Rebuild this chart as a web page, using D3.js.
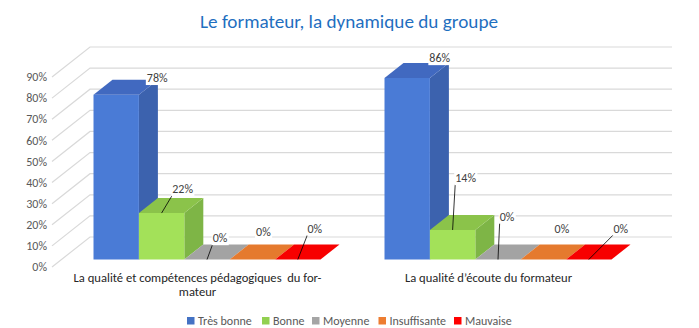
<!DOCTYPE html>
<html>
<head>
<meta charset="utf-8">
<script src="https://cdn.jsdelivr.net/npm/d3@7"></script>
<style>
  html, body { margin: 0; padding: 0; background: #fff; }
  svg { display: block; font-family: Calibri, Carlito, Lato, sans-serif; }
</style>
</head>
<body>
<svg id="chart" width="699" height="328"></svg>
<script>
// ---- data ----
const title = "Le formateur, la dynamique du groupe";
const categories = ["La qualité et compétences pédagogiques  du formateur", "La qualité d’écoute du formateur"];
const categoryLines = [["La qualité et compétences pédagogiques  du for-", "mateur"], ["La qualité d’écoute du formateur"]];
const series = ["Très bonne", "Bonne", "Moyenne", "Insuffisante", "Mauvaise"];
const tresBonne = [0.78, 0.86];
const bonne = [0.22, 0.14];
const moyenne = [0, 0];
const insuffisante = [0, 0];
const mauvaise = [0, 0];
const yTicks = [0, 0.1, 0.2, 0.3, 0.4, 0.5, 0.6, 0.7, 0.8, 0.9];
const yTickLabels = ["0%", "10%", "20%", "30%", "40%", "50%", "60%", "70%", "80%", "90%"];

// ---- layout / styles ----
const seriesValues = [tresBonne, bonne, moyenne, insuffisante, mauvaise];
const faceColors = [
  {front: "#4a7bd6", top: "#4169c0", side: "#3c62ae"},
  {front: "#a3e159", top: "#8bc34a", side: "#7eb546"},
  {front: "#a5a5a5", top: "#a3a3a3", side: "#8c8c8c"},
  {front: "#ed7d31", top: "#e57a2e", side: "#c96a28"},
  {front: "#ff0000", top: "#f70000", side: "#d90000"}
];
const legendColors = ["#4472c4", "#92d050", "#a5a5a5", "#ed7d31", "#ff0000"];
// label offsets from bar front-top-centre [series][category] and leader flags
const labelOffsets = [
  [[41, -17], [32.5, -20]],
  [[21, -24], [13, -52]],
  [[13, -21.5], [9, -43]],
  [[11, -28], [18.5, -31]],
  [[17, -31], [32, -31]]
];
const leaders = [[false, false], [true, true], [true, true], [false, false], [true, true]];

const DX = 38, DY = 30;           // full depth offset
const Z0 = 0.25, Z1 = 0.75;       // bar depth range

const svg = d3.select("#chart");

const x0 = d3.scaleBand().domain(categories).range([52, 634]).padding(0);
const x1 = d3.scaleBand().domain(series).range([0, x0.bandwidth()]).paddingInner(0).paddingOuter(0.705);
const y = d3.scaleLinear().domain([0, 0.9]).range([267, 77]);

const P = (x, v, z) => [x + DX * z, y(v) - DY * z];

// title
svg.append("text")
  .attr("x", 349).attr("y", 28)
  .attr("text-anchor", "middle")
  .attr("font-size", 19.2)
  .attr("fill", "#1f6fbf")
  .text(title);

// gridlines: side wall diagonals + back wall horizontals
const grid = svg.append("g").attr("stroke", "#d9d9d9").attr("stroke-width", 1.2).attr("fill", "none");
yTicks.forEach(t => {
  const a = P(52, t, 0), b = P(52, t, 1), c = P(634, t, 1);
  grid.append("path").attr("d", `M${a[0]},${a[1]}L${b[0]},${b[1]}L${c[0]},${c[1]}`);
});

// y tick labels
svg.append("g").selectAll("text").data(yTicks).join("text")
  .attr("x", 47).attr("y", d => y(d))
  .attr("dy", "0.35em")
  .attr("text-anchor", "end")
  .attr("font-size", 12)
  .attr("fill", "#595959")
  .text((d, i) => yTickLabels[i]);

// bars
const barsG = svg.append("g");
const poly = pts => "M" + pts.map(p => p.join(",")).join("L") + "Z";
categories.forEach((cat, ci) => {
  series.forEach((s, si) => {
    const v = seriesValues[si][ci];
    const xl = x0(cat) + x1(s);
    const xr = xl + x1.bandwidth();
    const col = faceColors[si];
    if (v > 0) {
      barsG.append("path").attr("fill", col.side)
        .attr("d", poly([P(xr, 0, Z0), P(xr, 0, Z1), P(xr, v, Z1), P(xr, v, Z0)]));
      barsG.append("path").attr("fill", col.front)
        .attr("d", poly([P(xl, 0, Z0), P(xr, 0, Z0), P(xr, v, Z0), P(xl, v, Z0)]));
    }
    barsG.append("path").attr("fill", col.top)
      .attr("d", poly([P(xl, v, Z0), P(xr, v, Z0), P(xr, v, Z1), P(xl, v, Z1)]));
  });
});

// data labels
const labG = svg.append("g");
categories.forEach((cat, ci) => {
  series.forEach((s, si) => {
    const v = seriesValues[si][ci];
    const xc = x0(cat) + x1(s) + x1.bandwidth() / 2;
    const anchor = P(xc, v, Z0);
    const off = labelOffsets[si][ci];
    const cx = anchor[0] + off[0], cy = anchor[1] + off[1];
    const g = labG.append("g");
    const rect = g.append("rect").attr("fill", "#fff");
    const txt = g.append("text")
      .attr("x", cx).attr("y", cy).attr("dy", "0.35em")
      .attr("text-anchor", "middle")
      .attr("font-size", 12)
      .attr("fill", "#404040")
      .text(d3.format(".0%")(v));
    const bb = txt.node().getBBox();
    rect.attr("x", bb.x - 1).attr("y", bb.y).attr("width", bb.width + 2).attr("height", bb.height);
    if (leaders[si][ci]) {
      g.insert("line", "rect")
        .attr("x1", bb.x).attr("y1", bb.y + bb.height - 1)
        .attr("x2", anchor[0]).attr("y2", anchor[1])
        .attr("stroke", "#000").attr("stroke-width", 0.8);
    }
  });
});

// category labels
categories.forEach((cat, ci) => {
  const cx = x0(cat) + x0.bandwidth() / 2;
  categoryLines[ci].forEach((line, li) => {
    svg.append("text")
      .attr("x", cx).attr("y", 281.5 + li * 14.5)
      .attr("text-anchor", "middle")
      .attr("font-size", 12.6)
      .attr("fill", "#262626")
      .style("white-space", "pre")
      .text(line);
  });
});

// legend
const legendX = [187, 262, 312, 378.5, 454];
const lg = svg.append("g");
series.forEach((s, i) => {
  lg.append("rect").attr("x", legendX[i]).attr("y", 317).attr("width", 7.5).attr("height", 7.5).attr("fill", legendColors[i]);
  lg.append("text").attr("x", legendX[i] + 11).attr("y", 320.8).attr("dy", "0.35em")
    .attr("font-size", 12).attr("fill", "#595959").text(s);
});
</script>
</body>
</html>
